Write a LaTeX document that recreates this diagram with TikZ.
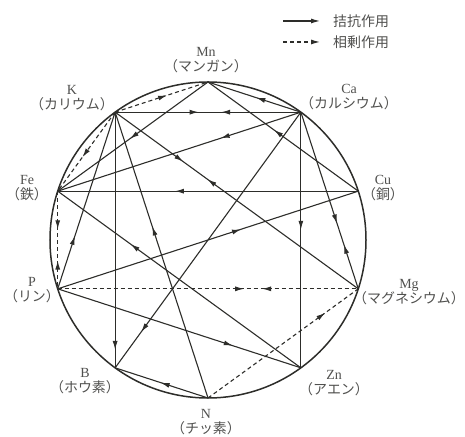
\documentclass[tikz,border=0pt]{standalone}
\usepackage{fontspec}
\setmainfont{Liberation Serif}
\newfontfamily\jpfont{Noto Sans CJK JP}
\usetikzlibrary{arrows.meta,decorations.markings}
\definecolor{inkgray}{RGB}{45,45,42}
\definecolor{labelgray}{RGB}{80,80,78}
\tikzset{
  rim/.style={draw=inkgray,line width=1.5bp},
  link/.style={draw=inkgray,line width=1.1bp},
  synlink/.style={link,dash pattern=on 4bp off 3bp},
  fwd/.style={postaction={decorate,decoration={markings,
      mark=at position #1 with {\arrow{Latex[length=9bp,width=5bp]}}}}},
  bwd/.style={postaction={decorate,decoration={markings,
      mark=at position #1 with {\arrowreversed{Latex[length=9bp,width=5bp]}}}}},
  elemlabel/.style={text=labelgray,align=center,inner sep=0pt,
      font=\fontsize{14}{15.5}\selectfont},
  keytext/.style={text=labelgray,anchor=west,inner sep=0pt,
      font=\jpfont\fontsize{14}{15}\selectfont}
}

\begin{document}
\begin{tikzpicture}[x=1bp,y=1bp]
  \useasboundingbox (-208,-197) rectangle (257,240);

  % elements on the circle
  \foreach \el/\ang in {Mn/90,Ca/54,Cu/18,Mg/-18,Zn/-54,N/-90,B/-126,P/-162,Fe/162,K/126}
    \coordinate (\el) at (\ang:158);
  \draw[rim] (0,0) circle (158);

  \node[elemlabel] (MnLab) at (-2,180) {Mn\\{\jpfont （マンガン）}};
  \node[elemlabel] (KLab) at (-136,142) {K\\{\jpfont （カリウム）}};
  \node[elemlabel] (CaLab) at (141,143) {Ca\\{\jpfont （カルシウム）}};
  \node[elemlabel] (FeLab) at (-181,52) {Fe\\{\jpfont （鉄）}};
  \node[elemlabel] (CuLab) at (175,52) {Cu\\{\jpfont （銅）}};
  \node[elemlabel] (PLab) at (-176,-50) {P\\{\jpfont （リン）}};
  \node[elemlabel] (MgLab) at (201,-52) {Mg\\{\jpfont （マグネシウム）}};
  \node[elemlabel] (BLab) at (-123,-141) {B\\{\jpfont （ホウ素）}};
  \node[elemlabel] (ZnLab) at (126,-143) {Zn\\{\jpfont （アエン）}};
  \node[elemlabel] (NLab) at (-2,-182) {N\\{\jpfont （チッ素）}};

  % antagonism
  \draw[link,fwd=0.45,bwd=0.57] (K) -- (Ca);
  \draw[link,fwd=0.28,bwd=0.38] (K) -- (Mg);
  \draw[link,fwd=0.63,bwd=0.75] (Ca) -- (Mg);
  \draw[link,fwd=0.48] (Ca) -- (Mn);
  \draw[link,fwd=0.56] (Cu) -- (Mn);
  \draw[link,fwd=0.33] (Ca) -- (Fe);
  \draw[link,fwd=0.52] (Mn) -- (Fe);
  \draw[link,fwd=0.61] (Cu) -- (Fe);
  \draw[link,fwd=0.46] (Ca) -- (Zn);
  \draw[link,fwd=0.7] (Zn) -- (Fe);
  \draw[link,fwd=0.3] (P) -- (K);
  \draw[link,fwd=0.6] (N) -- (K);
  \draw[link,fwd=0.61] (P) -- (Cu);
  \draw[link,fwd=0.93] (K) -- (B);
  \draw[link,fwd=0.86] (Ca) -- (B);
  \draw[link,fwd=0.72] (P) -- (Zn);
  \draw[link,fwd=0.51] (N) -- (B);

  % synergism
  \draw[synlink,fwd=0.56] (K) -- (Mn);
  \draw[synlink,fwd=0.57] (K) -- (Fe);
  \draw[synlink,fwd=0.39,bwd=0.71] (Fe) -- (P);
  \draw[synlink,fwd=0.62,bwd=0.68] (P) -- (Mg);
  \draw[synlink,fwd=0.78] (N) -- (Mg);

  % key
  \node[keytext] (antKey) at (125,219) {拮抗作用};
  \node[keytext] (synKey) at (125,198) {相剰作用};
  \coordinate (antStart) at (75,219);
  \coordinate (synStart) at (75,198);
  \draw[link,-{Latex[length=9bp,width=5bp]}] (antStart) -- ([xshift=-13bp]antKey.west);
  \draw[synlink,-{Latex[length=9bp,width=5bp]}] (synStart) -- ([xshift=-13bp]synKey.west);
\end{tikzpicture}
\end{document}
